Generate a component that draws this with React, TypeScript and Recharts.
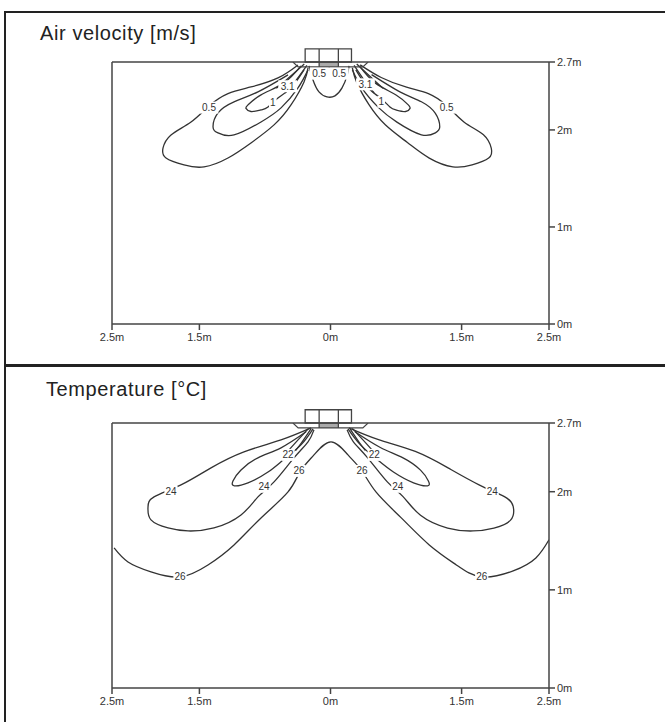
import React from 'react';
import {
  ComposedChart,
  Line,
  Scatter,
  XAxis,
  YAxis,
  ReferenceLine,
  ReferenceArea,
} from 'recharts';

type Pt = { x: number; y: number };
type Lbl = { x: number; y: number; text: string };

// ---------- axes ----------
const X_TICKS = [-2.5, -1.5, 0, 1.5, 2.5];
const Y_TICKS = [0, 1, 2, 2.7];
const X_DOMAIN: [number, number] = [-2.5, 2.5];
const Y_DOMAIN: [number, number] = [0, 2.7];
const TITLES = ['Air velocity [m/s]', 'Temperature [°C]'];

// ---------- diffuser (metres) ----------
const DIFFUSER_BOX = { x1: -0.29, x2: 0.24, y1: 2.7, y2: 2.835 };
const DIFFUSER_DIVIDERS = [-0.13, 0.09];
const DIFFUSER_CORE = { x1: -0.13, x2: 0.09, y1: 2.65, y2: 2.7 };
const DIFFUSER_BASE: Pt[] = [
  { x: -0.43, y: 2.7 },
  { x: -0.37, y: 2.65 },
  { x: 0.37, y: 2.65 },
  { x: 0.43, y: 2.7 },
];

// ---------- air velocity contours ----------
const VEL_05_LEFT: Pt[] = [
  { x: -0.372, y: 2.67 }, { x: -0.601, y: 2.536 }, { x: -0.91, y: 2.443 },
  { x: -1.173, y: 2.375 }, { x: -1.39, y: 2.247 }, { x: -1.596, y: 2.082 },
  { x: -1.825, y: 1.948 }, { x: -1.916, y: 1.814 }, { x: -1.882, y: 1.711 },
  { x: -1.676, y: 1.639 }, { x: -1.447, y: 1.619 }, { x: -1.173, y: 1.711 },
  { x: -0.91, y: 1.866 }, { x: -0.646, y: 2.052 }, { x: -0.452, y: 2.258 },
  { x: -0.303, y: 2.495 }, { x: -0.257, y: 2.639 },
];
const VEL_1_LEFT: Pt[] = [
  { x: -0.486, y: 2.567 }, { x: -0.83, y: 2.392 }, { x: -1.104, y: 2.289 },
  { x: -1.287, y: 2.175 }, { x: -1.344, y: 2.031 }, { x: -1.287, y: 1.969 },
  { x: -1.104, y: 1.948 }, { x: -0.795, y: 2.082 }, { x: -0.566, y: 2.227 },
  { x: -0.372, y: 2.433 }, { x: -0.257, y: 2.619 },
];
const VEL_INNER_LEFT: Pt[] = [
  { x: -0.338, y: 2.66 }, { x: -0.532, y: 2.485 }, { x: -0.795, y: 2.361 },
  { x: -0.944, y: 2.258 }, { x: -0.967, y: 2.222 }, { x: -0.91, y: 2.19 },
  { x: -0.795, y: 2.206 }, { x: -0.715, y: 2.237 }, { x: -0.601, y: 2.33 },
  { x: -0.452, y: 2.433 }, { x: -0.303, y: 2.619 },
];
const VEL_JET_LEFT_A: Pt[] = [
  { x: -0.3, y: 2.68 }, { x: -0.5, y: 2.52 }, { x: -0.62, y: 2.43 },
];
const VEL_JET_LEFT_B: Pt[] = [
  { x: -0.27, y: 2.665 }, { x: -0.42, y: 2.48 }, { x: -0.52, y: 2.38 },
];
const VEL_CENTER: Pt[] = [
  { x: -0.246, y: 2.66 }, { x: -0.2, y: 2.515 }, { x: -0.132, y: 2.392 },
  { x: -0.04, y: 2.34 }, { x: 0.051, y: 2.351 }, { x: 0.132, y: 2.433 },
  { x: 0.189, y: 2.557 }, { x: 0.212, y: 2.66 },
];
const VEL_05_RIGHT: Pt[] = [
  { x: 0.34, y: 2.67 }, { x: 0.58, y: 2.54 }, { x: 0.87, y: 2.44 },
  { x: 1.12, y: 2.375 }, { x: 1.33, y: 2.25 }, { x: 1.53, y: 2.08 },
  { x: 1.75, y: 1.95 }, { x: 1.84, y: 1.81 }, { x: 1.81, y: 1.71 },
  { x: 1.62, y: 1.64 }, { x: 1.4, y: 1.62 }, { x: 1.13, y: 1.71 },
  { x: 0.88, y: 1.87 }, { x: 0.63, y: 2.05 }, { x: 0.44, y: 2.26 },
  { x: 0.3, y: 2.49 }, { x: 0.25, y: 2.64 },
];
const VEL_1_RIGHT: Pt[] = [
  { x: 0.47, y: 2.57 }, { x: 0.8, y: 2.39 }, { x: 1.04, y: 2.29 },
  { x: 1.2, y: 2.17 }, { x: 1.25, y: 2.03 }, { x: 1.2, y: 1.97 },
  { x: 1.04, y: 1.95 }, { x: 0.76, y: 2.08 }, { x: 0.55, y: 2.23 },
  { x: 0.36, y: 2.43 }, { x: 0.25, y: 2.62 },
];
const VEL_INNER_RIGHT: Pt[] = [
  { x: 0.33, y: 2.66 }, { x: 0.51, y: 2.485 }, { x: 0.75, y: 2.36 },
  { x: 0.89, y: 2.258 }, { x: 0.91, y: 2.222 }, { x: 0.86, y: 2.19 },
  { x: 0.75, y: 2.206 }, { x: 0.68, y: 2.237 }, { x: 0.57, y: 2.33 },
  { x: 0.43, y: 2.433 }, { x: 0.29, y: 2.619 },
];
const VEL_JET_RIGHT_A: Pt[] = [
  { x: 0.3, y: 2.68 }, { x: 0.49, y: 2.52 }, { x: 0.6, y: 2.43 },
];
const VEL_JET_RIGHT_B: Pt[] = [
  { x: 0.27, y: 2.665 }, { x: 0.41, y: 2.48 }, { x: 0.5, y: 2.38 },
];
const VEL_LABELS: Lbl[] = [
  { x: -1.39, y: 2.23, text: '0.5' },
  { x: -0.49, y: 2.45, text: '3.1' },
  { x: -0.66, y: 2.28, text: '1' },
  { x: -0.13, y: 2.58, text: '0.5' },
  { x: 0.1, y: 2.58, text: '0.5' },
  { x: 0.4, y: 2.47, text: '3.1' },
  { x: 0.58, y: 2.29, text: '1' },
  { x: 1.33, y: 2.23, text: '0.5' },
];

// ---------- temperature contours ----------
const TEMP_24_LEFT: Pt[] = [
  { x: -0.223, y: 2.65 }, { x: -0.566, y: 2.528 }, { x: -0.99, y: 2.406 },
  { x: -1.367, y: 2.243 }, { x: -1.711, y: 2.069 }, { x: -2.019, y: 1.947 },
  { x: -2.088, y: 1.845 }, { x: -2.054, y: 1.713 }, { x: -1.859, y: 1.631 },
  { x: -1.63, y: 1.6 }, { x: -1.333, y: 1.631 }, { x: -1.024, y: 1.763 },
  { x: -0.83, y: 1.947 }, { x: -0.646, y: 2.1 }, { x: -0.418, y: 2.345 },
  { x: -0.257, y: 2.508 }, { x: -0.189, y: 2.63 },
];
const TEMP_22_LEFT: Pt[] = [
  { x: -0.2, y: 2.64 }, { x: -0.338, y: 2.477 }, { x: -0.532, y: 2.33 },
  { x: -0.715, y: 2.2 }, { x: -0.944, y: 2.09 }, { x: -1.1, y: 2.06 },
  { x: -1.116, y: 2.11 }, { x: -1.024, y: 2.222 }, { x: -0.83, y: 2.345 },
  { x: -0.566, y: 2.447 }, { x: -0.28, y: 2.61 },
];
const TEMP_JET_LEFT_A: Pt[] = [
  { x: -0.25, y: 2.645 }, { x: -0.4, y: 2.5 }, { x: -0.5, y: 2.4 },
];
const TEMP_JET_LEFT_B: Pt[] = [
  { x: -0.22, y: 2.645 }, { x: -0.33, y: 2.5 }, { x: -0.4, y: 2.42 },
];
const TEMP_26: Pt[] = [
  { x: -2.476, y: 1.427 }, { x: -2.317, y: 1.284 }, { x: -2.054, y: 1.183 },
  { x: -1.722, y: 1.132 }, { x: -1.402, y: 1.254 }, { x: -1.104, y: 1.458 },
  { x: -0.795, y: 1.733 }, { x: -0.486, y: 1.998 }, { x: -0.349, y: 2.202 },
  { x: -0.189, y: 2.375 }, { x: 0.006, y: 2.508 }, { x: 0.2, y: 2.375 },
  { x: 0.36, y: 2.212 }, { x: 0.52, y: 1.998 }, { x: 0.81, y: 1.733 },
  { x: 1.13, y: 1.458 }, { x: 1.44, y: 1.254 }, { x: 1.73, y: 1.132 },
  { x: 2.09, y: 1.193 }, { x: 2.35, y: 1.325 }, { x: 2.5, y: 1.51 },
];
const TEMP_24_RIGHT: Pt[] = [
  { x: 0.21, y: 2.65 }, { x: 0.55, y: 2.53 }, { x: 0.97, y: 2.41 },
  { x: 1.35, y: 2.24 }, { x: 1.7, y: 2.07 }, { x: 1.99, y: 1.95 },
  { x: 2.09, y: 1.85 }, { x: 2.06, y: 1.71 }, { x: 1.87, y: 1.63 },
  { x: 1.63, y: 1.6 }, { x: 1.34, y: 1.63 }, { x: 1.03, y: 1.76 },
  { x: 0.83, y: 1.95 }, { x: 0.65, y: 2.1 }, { x: 0.42, y: 2.35 },
  { x: 0.26, y: 2.51 }, { x: 0.19, y: 2.63 },
];
const TEMP_22_RIGHT: Pt[] = [
  { x: 0.2, y: 2.64 }, { x: 0.34, y: 2.48 }, { x: 0.53, y: 2.33 },
  { x: 0.72, y: 2.2 }, { x: 0.95, y: 2.09 }, { x: 1.11, y: 2.06 },
  { x: 1.12, y: 2.11 }, { x: 1.03, y: 2.22 }, { x: 0.83, y: 2.345 },
  { x: 0.57, y: 2.45 }, { x: 0.28, y: 2.61 },
];
const TEMP_JET_RIGHT_A: Pt[] = [
  { x: 0.25, y: 2.645 }, { x: 0.4, y: 2.5 }, { x: 0.5, y: 2.4 },
];
const TEMP_JET_RIGHT_B: Pt[] = [
  { x: 0.22, y: 2.645 }, { x: 0.33, y: 2.5 }, { x: 0.4, y: 2.42 },
];
const TEMP_LABELS: Lbl[] = [
  { x: -1.825, y: 2.0, text: '24' },
  { x: -0.76, y: 2.05, text: '24' },
  { x: -0.486, y: 2.375, text: '22' },
  { x: -0.36, y: 2.212, text: '26' },
  { x: -1.722, y: 1.132, text: '26' },
  { x: 0.5, y: 2.375, text: '22' },
  { x: 0.36, y: 2.212, text: '26' },
  { x: 0.77, y: 2.05, text: '24' },
  { x: 1.85, y: 2.0, text: '24' },
  { x: 1.73, y: 1.132, text: '26' },
];

const VEL_SERIES = [
  VEL_05_LEFT, VEL_1_LEFT, VEL_INNER_LEFT, VEL_JET_LEFT_A, VEL_JET_LEFT_B,
  VEL_CENTER, VEL_05_RIGHT, VEL_1_RIGHT, VEL_INNER_RIGHT, VEL_JET_RIGHT_A, VEL_JET_RIGHT_B,
];
const TEMP_SERIES = [
  TEMP_24_LEFT, TEMP_22_LEFT, TEMP_JET_LEFT_A, TEMP_JET_LEFT_B, TEMP_26,
  TEMP_24_RIGHT, TEMP_22_RIGHT, TEMP_JET_RIGHT_A, TEMP_JET_RIGHT_B,
];

const FONT = '"Liberation Sans", Arial, sans-serif';
const AXIS = '#444';
const CURVE = '#333';

const fmtX = (v: number) => `${Math.abs(v)}m`;
const fmtY = (v: number) => `${v}m`;

const LabelShape = (props: any) => {
  const { cx, cy, payload } = props;
  if (cx == null || cy == null) return <g />;
  const text: string = payload.text;
  const w = text.length * 5.6 + 2;
  return (
    <g>
      <rect x={cx - w / 2} y={cy - 6} width={w} height={12} fill="#fff" />
      <text
        x={cx}
        y={cy}
        textAnchor="middle"
        dominantBaseline="central"
        fontSize={10}
        fontFamily={FONT}
        fill="#333"
      >
        {text}
      </text>
    </g>
  );
};

function Panel({
  series,
  labels,
  height,
  top,
}: {
  series: Pt[][];
  labels: Lbl[];
  height: number;
  top: number;
}) {
  return (
    <div style={{ position: 'absolute', left: 0, top, width: 665, height }}>
      <ComposedChart
        width={665}
        height={height}
        margin={{ top: 62, left: 112, right: 66, bottom: 6 }}
      >
        <XAxis
          type="number"
          dataKey="x"
          domain={X_DOMAIN}
          ticks={X_TICKS}
          interval={0}
          allowDataOverflow
          tickFormatter={fmtX}
          stroke={AXIS}
          strokeWidth={1.5}
          tickSize={6}
          tickMargin={3}
          height={30}
          tick={{ fontSize: 11, fill: '#333', fontFamily: FONT }}
        />
        <YAxis
          type="number"
          orientation="right"
          domain={Y_DOMAIN}
          ticks={Y_TICKS}
          interval={0}
          allowDataOverflow
          tickFormatter={fmtY}
          stroke={AXIS}
          strokeWidth={1.5}
          tickSize={6}
          tickMargin={2}
          width={50}
          tick={{ fontSize: 11, fill: '#333', fontFamily: FONT }}
        />
        <ReferenceLine x={-2.5} stroke={AXIS} strokeWidth={1.5} />
        <ReferenceLine y={2.7} stroke={AXIS} strokeWidth={1.5} />
        {series.map((d, i) => (
          <Line
            key={i}
            data={d}
            dataKey="y"
            type="natural"
            stroke={CURVE}
            strokeWidth={1.3}
            dot={false}
            activeDot={false}
            isAnimationActive={false}
          />
        ))}
        <Line
          data={DIFFUSER_BASE}
          dataKey="y"
          type="linear"
          stroke={AXIS}
          strokeWidth={1.2}
          dot={false}
          activeDot={false}
          isAnimationActive={false}
        />
        <ReferenceArea
          x1={DIFFUSER_CORE.x1}
          x2={DIFFUSER_CORE.x2}
          y1={DIFFUSER_CORE.y1}
          y2={DIFFUSER_CORE.y2}
          fill="#aaa"
          fillOpacity={1}
          ifOverflow="visible"
        />
        <ReferenceArea
          x1={DIFFUSER_BOX.x1}
          x2={DIFFUSER_BOX.x2}
          y1={DIFFUSER_BOX.y1}
          y2={DIFFUSER_BOX.y2}
          fill="#fff"
          fillOpacity={1}
          stroke={AXIS}
          strokeWidth={1.3}
          ifOverflow="visible"
        />
        {DIFFUSER_DIVIDERS.map((x) => (
          <ReferenceLine
            key={x}
            segment={[
              { x, y: DIFFUSER_CORE.y1 },
              { x, y: DIFFUSER_BOX.y2 },
            ]}
            stroke={AXIS}
            strokeWidth={1.3}
            ifOverflow="visible"
          />
        ))}
        <Scatter
          data={labels}
          dataKey="y"
          shape={LabelShape}
          isAnimationActive={false}
        />
      </ComposedChart>
    </div>
  );
}

const titleStyle: React.CSSProperties = {
  position: 'absolute',
  fontFamily: FONT,
  fontSize: 20,
  lineHeight: '20px',
  letterSpacing: 0.6,
  color: '#222',
  whiteSpace: 'nowrap',
};

export default function App() {
  return (
    <div
      style={{
        position: 'absolute',
        left: 0,
        top: 0,
        width: 665,
        height: 722,
        background: '#fff',
        overflow: 'hidden',
      }}
    >
      <Panel series={VEL_SERIES} labels={VEL_LABELS} height={360} top={0} />
      <Panel series={TEMP_SERIES} labels={TEMP_LABELS} height={363} top={361} />
      <div
        style={{
          position: 'absolute',
          left: 4,
          top: 11,
          width: 700,
          height: 760,
          borderLeft: '2.5px solid #222',
          borderTop: '2.5px solid #222',
          pointerEvents: 'none',
        }}
      />
      <div
        style={{
          position: 'absolute',
          left: 4,
          top: 364,
          width: 700,
          height: 2.5,
          background: '#222',
        }}
      />
      <div style={{ ...titleStyle, left: 40, top: 23 }}>{TITLES[0]}</div>
      <div style={{ ...titleStyle, left: 46, top: 379 }}>{TITLES[1]}</div>
    </div>
  );
}
